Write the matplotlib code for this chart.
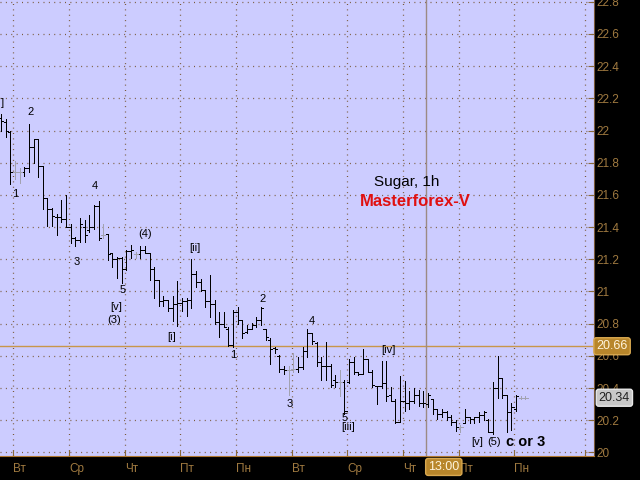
import matplotlib
matplotlib.use("Agg")
import matplotlib.pyplot as plt
import numpy as np

plt.rcParams['font.family'] = ['Liberation Sans', 'DejaVu Sans']

# --- Sugar, 1h bars (open / high / low / close) ---
opens = [22.08, 22.05, 21.99, 21.74, 21.74, 21.74, 21.77, 21.90, 21.95, 21.78,
         21.58, 21.51, 21.46, 21.46, 21.45, 21.40, 21.33, 21.32, 21.40, 21.38,
         21.40, 21.53, 21.35, 21.36, 21.24, 21.20, 21.21, 21.14, 21.25, 21.23,
         21.23, 21.26, 21.24, 21.14, 21.07, 20.94, 20.95, 20.90, 20.92, 20.93,
         20.94, 20.95, 21.11, 21.06, 21.01, 20.94, 20.92, 20.81, 20.80, 20.77,
         20.67, 20.87, 20.82, 20.75, 20.77, 20.79, 20.82, 20.77, 20.70, 20.65,
         20.60, 20.52, 20.51, 20.52, 20.52, 20.53, 20.63, 20.74, 20.68, 20.56,
         20.54, 20.54, 20.45, 20.44, 20.44, 20.44, 20.56, 20.50, 20.49, 20.58,
         20.50, 20.41, 20.41, 20.43, 20.36, 20.32, 20.19, 20.32, 20.31, 20.32,
         20.36, 20.31, 20.30, 20.33, 20.27, 20.24, 20.25, 20.22, 20.19, 20.16,
         20.18, 20.22, 20.21, 20.22, 20.23, 20.20, 20.13, 20.40, 20.46, 20.36,
         20.25, 20.27, 20.34, 20.34]
highs = [22.10, 22.07, 22.00, 21.81, 21.765, 21.775, 22.04, 21.95, 21.95, 21.78,
         21.58, 21.52, 21.48, 21.57, 21.60, 21.42, 21.34, 21.455, 21.444, 21.475,
         21.54, 21.56, 21.42, 21.36, 21.242, 21.217, 21.213, 21.258, 21.29, 21.248,
         21.284, 21.284, 21.24, 21.155, 21.073, 20.97, 20.95, 20.97, 21.063, 20.96,
         20.96, 21.20, 21.13, 21.08, 21.01, 21.10, 20.947, 20.874, 20.874, 20.78,
         20.885, 20.905, 20.82, 20.79, 20.806, 20.843, 20.905, 20.77, 20.71, 20.656,
         20.605, 20.54, 20.54, 20.615, 20.59, 20.655, 20.77, 20.74, 20.685, 20.59,
         20.685, 20.55, 20.48, 20.51, 20.45, 20.58, 20.59, 20.50, 20.644, 20.58,
         20.51, 20.415, 20.57, 20.57, 20.405, 20.33, 20.476, 20.445, 20.38, 20.40,
         20.39, 20.38, 20.37, 20.33, 20.27, 20.27, 20.26, 20.23, 20.20, 20.173,
         20.27, 20.22, 20.22, 20.25, 20.26, 20.21, 20.435, 20.60, 20.46, 20.36,
         20.31, 20.36, 20.35, 20.35]
lows = [22.00, 21.96, 21.67, 21.70, 21.676, 21.72, 21.744, 21.80, 21.71, 21.51,
        21.41, 21.41, 21.35, 21.43, 21.40, 21.30, 21.28, 21.31, 21.31, 21.37,
        21.39, 21.32, 21.33, 21.197, 21.155, 21.083, 21.052, 21.135, 21.207, 21.207,
        21.207, 21.238, 21.073, 20.96, 20.91, 20.91, 20.877, 20.815, 20.784, 20.877,
        20.846, 20.898, 21.03, 21.00, 20.905, 20.84, 20.80, 20.72, 20.78, 20.66,
        20.656, 20.80, 20.71, 20.74, 20.77, 20.78, 20.79, 20.70, 20.55, 20.615,
        20.50, 20.49, 20.356, 20.50, 20.50, 20.52, 20.59, 20.675, 20.54, 20.45,
        20.45, 20.405, 20.405, 20.35, 20.24, 20.43, 20.49, 20.48, 20.49, 20.50,
        20.405, 20.30, 20.40, 20.32, 20.32, 20.18, 20.188, 20.26, 20.27, 20.31,
        20.29, 20.28, 20.28, 20.24, 20.21, 20.22, 20.20, 20.17, 20.136, 20.126,
        20.18, 20.18, 20.18, 20.19, 20.20, 20.126, 20.115, 20.34, 20.34, 20.13,
        20.14, 20.26, 20.33, 20.33]
closes = [22.06, 22.00, 21.74, 21.74, 21.74, 21.77, 21.90, 21.95, 21.78, 21.58,
          21.51, 21.47, 21.46, 21.45, 21.40, 21.33, 21.32, 21.42, 21.35, 21.40,
          21.53, 21.33, 21.35, 21.23, 21.20, 21.21, 21.14, 21.25, 21.26, 21.23,
          21.26, 21.24, 21.14, 21.07, 20.94, 20.95, 20.90, 20.92, 20.93, 20.94,
          20.95, 21.11, 21.06, 21.01, 20.94, 20.92, 20.81, 20.80, 20.78, 20.67,
          20.87, 20.82, 20.74, 20.77, 20.79, 20.82, 20.90, 20.72, 20.64, 20.64,
          20.52, 20.51, 20.51, 20.52, 20.53, 20.63, 20.74, 20.69, 20.56, 20.54,
          20.54, 20.42, 20.44, 20.44, 20.26, 20.56, 20.50, 20.49, 20.58, 20.50,
          20.42, 20.41, 20.43, 20.35, 20.32, 20.19, 20.32, 20.31, 20.32, 20.36,
          20.31, 20.31, 20.36, 20.27, 20.24, 20.25, 20.22, 20.19, 20.16, 20.16,
          20.22, 20.21, 20.22, 20.23, 20.25, 20.13, 20.40, 20.46, 20.36, 20.25,
          20.28, 20.35, 20.34, 20.34]
gray_bars = [3, 4, 22, 29, 62, 63, 73, 99, 112, 113]

# first bar of each trading day and the weekday names under them
day_first_bar = [3, 15, 27, 39, 51, 63, 75, 87, 99, 111]
day_names = ['Вт', 'Ср', 'Чт', 'Пт', 'Пн', 'Вт', 'Ср', 'Чт', 'Пт', 'Пн']
price_levels = np.round(np.arange(20.0, 22.81, 0.2), 1)

crosshair_price = 20.66
crosshair_bar = 91.64
crosshair_time = '13:00'

# Elliott wave marks: text, bar position, price
wave_labels = [
    (']', 0.3, 22.17), ('2', 6.45, 22.115), ('1', 3.0, 21.606), ('4', 20.2, 21.655),
    ('3', 16.4, 21.183), ('(4)', 31.0, 21.357), ('5', 26.1, 21.009), ('[v]', 24.8, 20.904),
    ('(3)', 24.3, 20.823), ('[ii]', 41.8, 21.27), ('[i]', 36.7, 20.717), ('2', 56.4, 20.953),
    ('1', 50.0, 20.606), ('4', 66.9, 20.816), ('3', 62.2, 20.301), ('5', 74.1, 20.212),
    ('[iii]', 74.7, 20.158), ('[iv]', 83.5, 20.637), ('[v]', 102.6, 20.067), ('(5)', 106.3, 20.067),
]

# --- figure ---
fig = plt.figure(figsize=(6.4, 4.8), dpi=100, facecolor='black')
ax = fig.add_axes([0, 24 / 480, 594 / 640, 456 / 480])
ax.set_facecolor('#ccccff')

x = np.arange(len(opens))
colors = ['#a2a2b0' if i in gray_bars else 'black' for i in x]
ax.vlines(x, lows, highs, colors=colors, lw=0.72, zorder=3, antialiased=False)
ax.hlines(opens, x - 0.45, x, colors=colors, lw=0.72, zorder=3, antialiased=False)
ax.hlines(closes, x, x + 0.45, colors=colors, lw=0.72, zorder=3, antialiased=False)

# crosshair
ax.axhline(crosshair_price, color='#c8964a', lw=1, zorder=2)
ax.axvline(crosshair_bar, color='#9c8a84', lw=1, zorder=2)

grid_color = '#7a5a3a'
ax.set_xlim(-0.23, 127.78)
ax.set_ylim(19.978, 22.811)
grid_x = [d - 0.37 for d in day_first_bar] + [125.8]
ax.set_xticks(grid_x)
ax.set_xticklabels(day_names + [''], ha='left')
ax.set_yticks(price_levels)
ax.set_yticklabels(['%g' % p for p in price_levels])
ax.yaxis.tick_right()
ax.grid(True, color=grid_color, linestyle=(0, (0.8, 3.5)), lw=0.9)
ax.tick_params(axis='both', direction='in', length=4, color='#8a6a3a',
               labelcolor='#a07a40', labelsize=8.5)
ax.tick_params(axis='x', pad=5)
ax.tick_params(axis='y', pad=2)
for side in ['left', 'top']:
    ax.spines[side].set_visible(False)
ax.spines['right'].set_color('#7a5a3a')
ax.spines['bottom'].set_color('#b07830')

for txt, bx, py in wave_labels:
    ax.text(bx, py, txt, fontsize=8, ha='center', va='center', color='black', zorder=4)
ax.text(113.0, 20.067, 'c or 3', fontsize=10.5, fontweight='bold', ha='center', va='center',
        color='black', zorder=4)

ax.text(87.5, 21.68, 'Sugar, 1h', fontsize=11, ha='center', va='center', color='black')
ax.text(89.2, 21.562, 'Masterforex-V', fontsize=12, fontweight='bold', ha='center', va='center',
        color='#e01010')

# price / time boxes on the axes
ax.text(1.004, crosshair_price, '%.2f' % crosshair_price, transform=ax.get_yaxis_transform(),
        ha='left', va='center', fontsize=9, color='#fff4dc', clip_on=False, zorder=5,
        bbox=dict(boxstyle='round,pad=0.2', fc='#b8862b', ec='#d8a850', lw=1))
ax.text(1.008, closes[-1], '%.2f' % closes[-1], transform=ax.get_yaxis_transform(),
        ha='left', va='center', fontsize=9, color='#202020', clip_on=False, zorder=5,
        bbox=dict(boxstyle='round,pad=0.2', fc='#c8c8c8', ec='#e8e8e8', lw=1))
ax.text(crosshair_bar + 0.4, -0.024, crosshair_time, transform=ax.get_xaxis_transform(),
        ha='left', va='center', fontsize=9, color='#fff4dc', clip_on=False, zorder=5,
        bbox=dict(boxstyle='round,pad=0.2', fc='#b8862b', ec='#d8a850', lw=1))

fig.savefig('out.png', dpi=100, facecolor='black')
